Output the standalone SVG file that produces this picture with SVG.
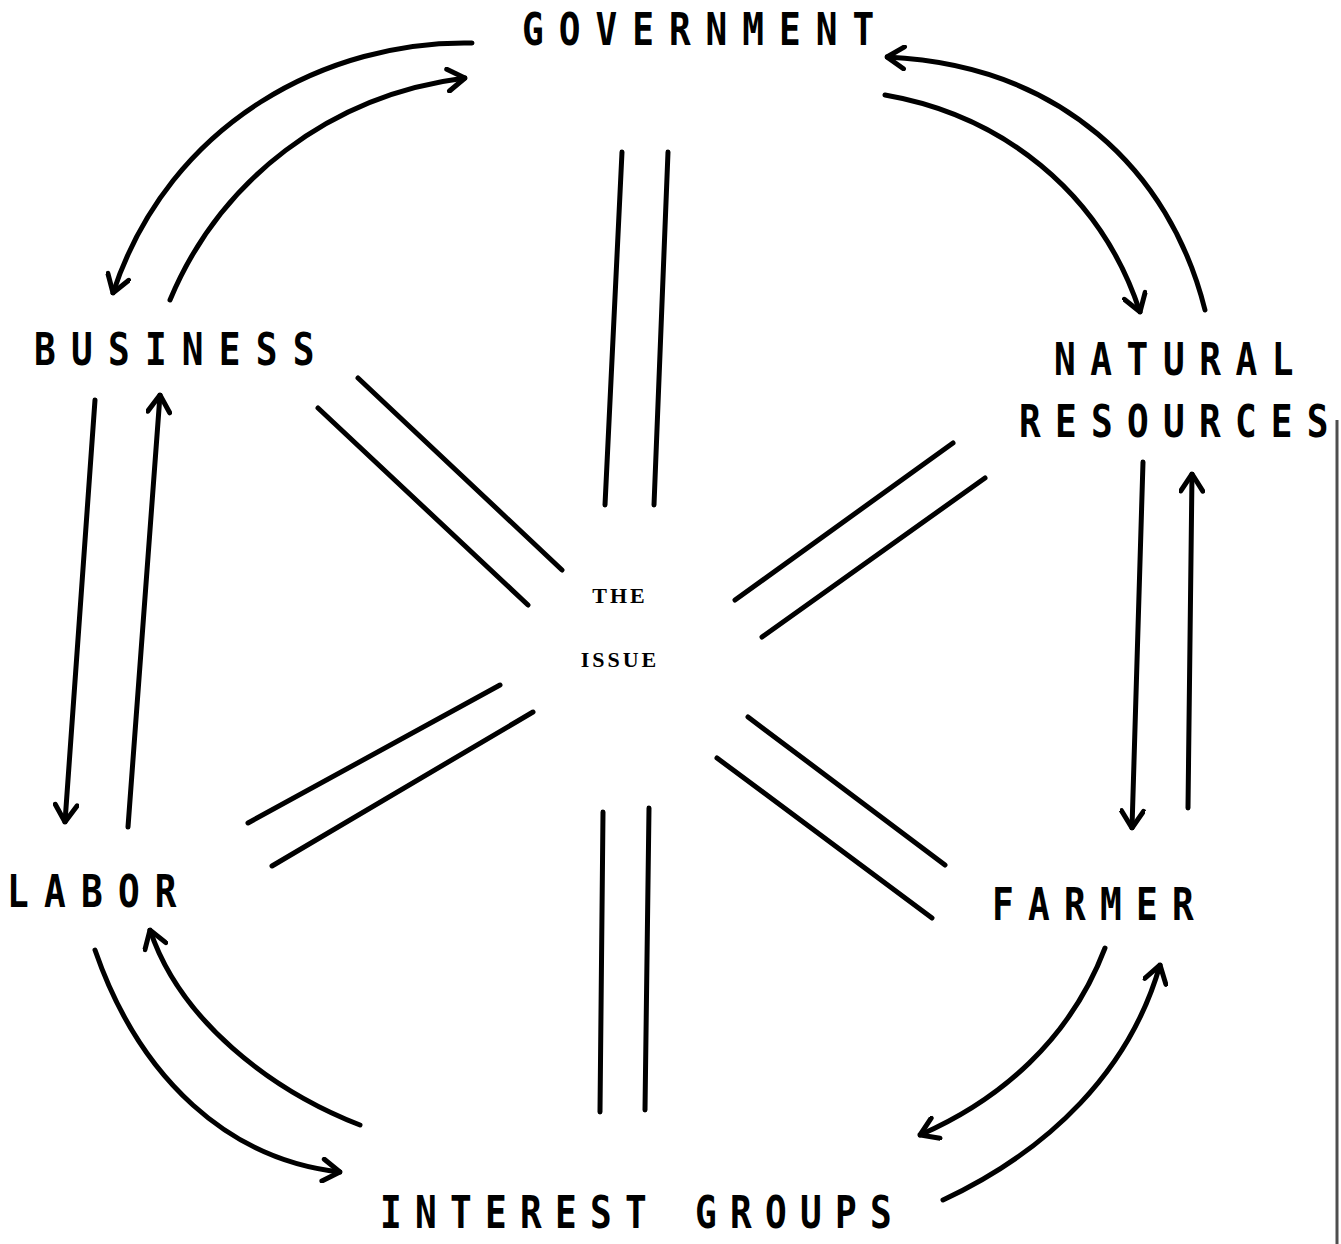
<svg xmlns="http://www.w3.org/2000/svg" width="1341" height="1244" viewBox="0 0 1341 1244">
<style>
.lbl{font-family:"DejaVu Sans Mono","Liberation Mono",monospace;font-size:44px;font-weight:bold;fill:#000;}
.ctr{font-family:"Liberation Serif","DejaVu Serif",serif;font-size:22px;font-weight:bold;fill:#000;letter-spacing:3px;}
.c{fill:none;stroke:#000;stroke-width:5;stroke-linecap:round;}
.s{fill:none;stroke:#000;stroke-width:5;stroke-linecap:round;}
</style>
<defs>
<marker id="ah" viewBox="0 0 22 26" refX="20" refY="13" markerWidth="22" markerHeight="26" markerUnits="userSpaceOnUse" orient="auto">
<path d="M3,2 L20,13 L3,24" fill="none" stroke="#000" stroke-width="5" stroke-linecap="round" stroke-linejoin="miter"/>
</marker>
</defs>
<rect width="1341" height="1244" fill="#fff"/>

<g id="government"><text class="lbl" transform="translate(522,45) scale(0.82,1)" style="letter-spacing:18.3px">GOVERNMENT</text></g>
<g id="business"><text class="lbl" transform="translate(34,365) scale(0.82,1)" style="letter-spacing:18.6px">BUSINESS</text></g>
<g id="natural-resources">
<text class="lbl" transform="translate(1054,375) scale(0.82,1)" style="letter-spacing:17.8px">NATURAL</text>
<text class="lbl" transform="translate(1019,437) scale(0.82,1)" style="letter-spacing:17.4px">RESOURCES</text>
</g>
<g id="labor"><text class="lbl" transform="translate(7,907) scale(0.82,1)" style="letter-spacing:18.6px">LABOR</text></g>
<g id="farmer"><text class="lbl" transform="translate(992,920) scale(0.82,1)" style="letter-spacing:17.4px">FARMER</text></g>
<g id="interest-groups"><text class="lbl" transform="translate(380,1228) scale(0.82,1)" style="letter-spacing:16.2px">INTEREST GROUPS</text></g>
<g id="the-issue">
<text class="ctr" x="620" y="603" text-anchor="middle">THE</text>
<text class="ctr" x="620" y="667" text-anchor="middle">ISSUE</text>
</g>

<g id="connectors">
<path class="c" d="M472,43 C330,40 170,120 113,293" marker-end="url(#ah)"/>
<path class="c" d="M170,300 C220,180 330,95 465,78" marker-end="url(#ah)"/>
<path class="c" d="M1205,310 C1170,170 1060,65 887,57" marker-end="url(#ah)"/>
<path class="c" d="M885,95 C1000,115 1100,190 1140,312" marker-end="url(#ah)"/>
<path class="c" d="M95,400 L65,822" marker-end="url(#ah)"/>
<path class="c" d="M128,827 L160,395" marker-end="url(#ah)"/>
<path class="c" d="M1143,462 L1132,828" marker-end="url(#ah)"/>
<path class="c" d="M1188,808 L1192,474" marker-end="url(#ah)"/>
<path class="c" d="M95,950 C140,1080 230,1160 340,1172" marker-end="url(#ah)"/>
<path class="c" d="M360,1125 C270,1090 180,1020 150,930" marker-end="url(#ah)"/>
<path class="c" d="M1105,948 C1070,1040 1000,1100 920,1135" marker-end="url(#ah)"/>
<path class="c" d="M943,1200 C1050,1150 1130,1070 1160,965" marker-end="url(#ah)"/>
<line class="s" x1="622" y1="152" x2="605" y2="505"/>
<line class="s" x1="668" y1="152" x2="654" y2="505"/>
<line class="s" x1="603" y1="812" x2="600" y2="1112"/>
<line class="s" x1="649" y1="808" x2="645" y2="1110"/>
<line class="s" x1="358" y1="378" x2="562" y2="570"/>
<line class="s" x1="318" y1="408" x2="528" y2="605"/>
<line class="s" x1="953" y1="443" x2="735" y2="600"/>
<line class="s" x1="985" y1="478" x2="762" y2="637"/>
<line class="s" x1="500" y1="685" x2="248" y2="823"/>
<line class="s" x1="533" y1="712" x2="272" y2="866"/>
<line class="s" x1="748" y1="717" x2="945" y2="865"/>
<line class="s" x1="717" y1="758" x2="932" y2="918"/>
</g>
<line x1="1337" y1="420" x2="1337" y2="1244" stroke="#222" stroke-width="3" opacity="0.8"/>
</svg>
